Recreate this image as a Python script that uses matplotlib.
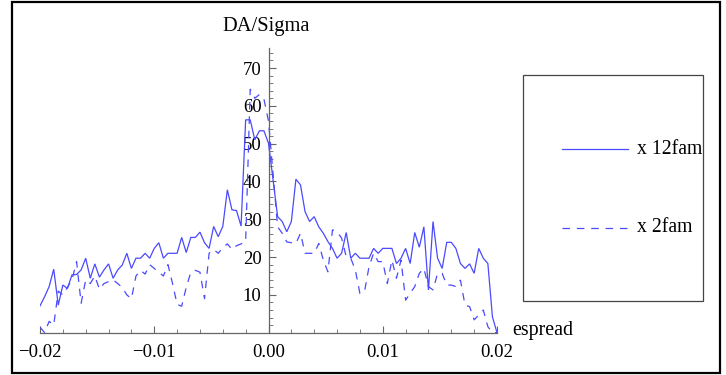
import numpy as np
import matplotlib
matplotlib.use("Agg")
import matplotlib.pyplot as plt
from matplotlib.lines import Line2D
from matplotlib.patches import Rectangle

plt.rcParams['font.family'] = ['Liberation Serif', 'DejaVu Serif']

# ---- data ----
espread = np.round(np.arange(-50, 51) * 0.0004, 6)

da_12fam = [7.1, 9.5, 12.2, 16.8, 7.3, 12.6, 11.7, 15.3, 15.4, 16.6,
            19.7, 14.4, 18.2, 14.7, 16.6, 18.2, 14.4, 16.6, 17.9, 21.0,
            17.0, 19.7, 19.7, 21.0, 19.7, 22.3, 23.8, 19.7, 21.0, 21.0,
            21.0, 25.2, 21.2, 25.2, 25.2, 26.6, 23.8, 22.3, 28.1, 25.4,
            28.1, 37.8, 32.5, 32.3, 28.2, 56.3, 56.3, 51.0, 53.4, 53.4,
            50.1,
            40.4, 30.7, 29.4, 26.7, 29.4, 40.6, 39.1, 32.0, 29.4, 30.7,
            28.0, 26.3, 24.1, 22.3, 19.7, 21.0, 26.5, 19.7, 21.0, 19.7,
            19.7, 19.7, 22.3, 21.0, 22.3, 22.3, 22.3, 18.3, 19.7, 22.3,
            18.3, 26.5, 22.6, 28.0, 11.3, 29.4, 19.7, 17.0, 23.9, 23.9,
            22.3, 18.3, 17.0, 18.2, 15.7, 22.3, 19.7, 18.3, 4.2, 0.0]

da_2fam = [1.5, 0.0, 3.0, 2.0, 11.0, 10.0, 12.0, 14.0, 18.8, 7.8,
           14.0, 13.0, 15.0, 11.5, 13.0, 13.5, 14.0, 13.0, 12.0, 10.0,
           9.0, 15.0, 16.5, 15.5, 18.0, 17.0, 16.0, 15.0, 18.0, 13.0,
           7.5, 7.0, 12.0, 16.0, 16.5, 16.0, 9.0, 21.0, 22.0, 21.0,
           22.5, 23.5, 22.0, 23.0, 23.5, 24.0, 64.4, 62.0, 63.0, 61.8,
           56.0,
           42.0, 28.0, 26.3, 24.0, 23.8, 23.6, 26.3, 21.0, 21.0, 21.0,
           23.6, 19.2, 16.1, 27.2, 26.7, 25.0, 20.1, 19.7, 16.6, 10.4,
           10.8, 17.5, 21.0, 18.8, 18.8, 13.0, 19.2, 14.4, 19.2, 8.6,
           10.4, 12.2, 15.7, 17.0, 12.2, 11.3, 15.7, 15.7, 12.6, 12.6,
           12.2, 13.9, 7.3, 6.9, 3.4, 4.7, 6.0, 1.6, 0.0, 0.0]

series_names = ["x 12fam", "x 2fam"]
x_ticks = [-0.02, -0.01, 0.0, 0.01, 0.02]
x_ticklabels = ["\u22120.02", "\u22120.01", "0.00", "0.01", "0.02"]
y_ticks = [10, 20, 30, 40, 50, 60, 70]

W, H = 726, 375
fig = plt.figure(figsize=(W / 100, H / 100), dpi=100)

def fx(px):
    return px / W

def fy(py):
    return 1 - py / H

left, right, top, bottom = 40, 497, 48, 332.7
ax = fig.add_axes([fx(left), fy(bottom), fx(right) - fx(left), fy(top) - fy(bottom)])
ax.patch.set_alpha(0)

color = '#4a4aff'
dash = (0, (6, 5.5))
ax.plot(espread, da_12fam, color=color, lw=0.9, solid_joinstyle='miter')
ax.plot(espread, da_2fam, color=color, lw=0.9, linestyle=dash)

ax.set_xlim(-0.02, 0.02)
ax.set_ylim(0, 75.3)

for s in ['top', 'right']:
    ax.spines[s].set_visible(False)
ax.spines['left'].set_position(('data', 0))
ax.spines['bottom'].set_position(('data', 0))
for s in ['left', 'bottom']:
    ax.spines[s].set_color('#666666')
    ax.spines[s].set_linewidth(0.9)

ax.set_xticks(x_ticks)
ax.set_xticklabels(x_ticklabels)
ax.set_xticks(np.round(np.arange(-10, 11) * 0.002, 6), minor=True)
ax.set_yticks(y_ticks)
ax.set_yticks(np.arange(2, 76, 2), minor=True)

ax.tick_params(axis='both', which='major', direction='in', length=5, width=0.8,
               color='#666666', labelsize=13.5, labelcolor='black')
ax.tick_params(axis='both', which='minor', direction='in', length=3, width=0.6,
               color='#666666')
ax.tick_params(axis='x', which='major', pad=8)
ax.tick_params(axis='y', which='major', pad=5)

fig.text(fx(266), fy(27), "DA/Sigma", ha='center', va='center', fontsize=14.8)
fig.text(fx(512), fy(331), "espread", ha='left', va='center', fontsize=14.3)

# legend box
fig.patches.append(Rectangle((fx(522.7), fy(300.7)), fx(702.7) - fx(522.7), fy(75) - fy(300.7),
                             transform=fig.transFigure, fill=False, ec='#444444', lw=0.9))
fig.lines.append(Line2D([fx(562), fx(628)], [fy(149), fy(149)], transform=fig.transFigure,
                        color=color, lw=0.9))
fig.lines.append(Line2D([fx(562), fx(628)], [fy(228), fy(228)], transform=fig.transFigure,
                        color=color, lw=0.9, linestyle=dash))
fig.text(fx(637), fy(149), series_names[0], ha='left', va='center', fontsize=14.2)
fig.text(fx(637), fy(228), series_names[1], ha='left', va='center', fontsize=14.2)

# outer frame
fig.patches.append(Rectangle((fx(12), fy(373)), fx(720) - fx(12), fy(2) - fy(373),
                             transform=fig.transFigure, fill=False, ec='black', lw=1.6))

fig.savefig("out.png", dpi=100)
